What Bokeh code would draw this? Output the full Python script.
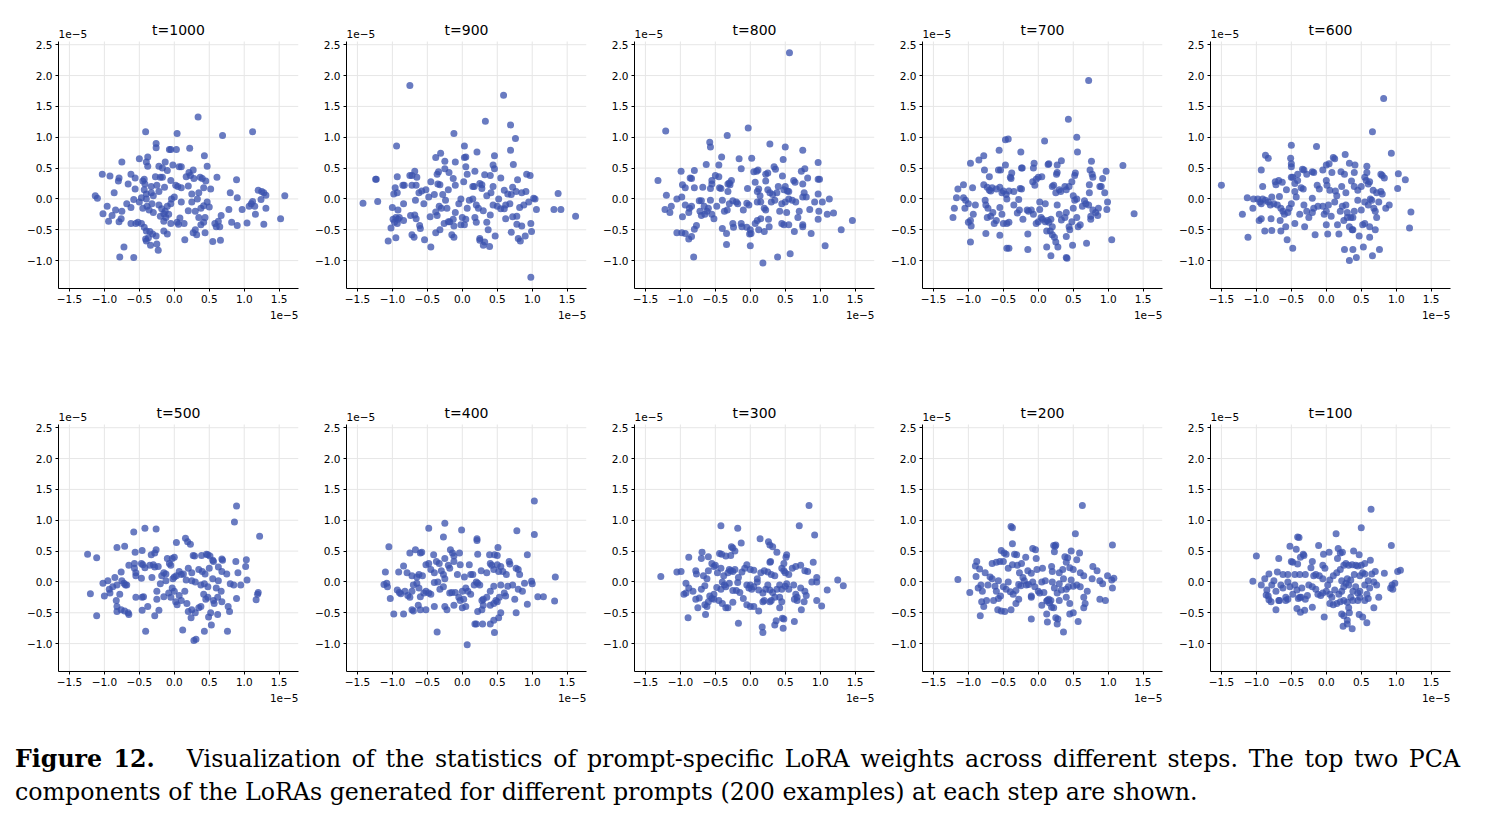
from bokeh.plotting import figure
from bokeh.layouts import row, column
from bokeh.models import Range1d, FixedTicker, Title, Div, Spacer
from bokeh.core.properties import value
from bokeh.embed import file_html
from bokeh.resources import INLINE

steps = [1000, 900, 800, 700, 600, 500, 400, 300, 200, 100]
x_ticks = [-1.5, -1.0, -0.5, 0.0, 0.5, 1.0, 1.5]
y_ticks = [-1.0, -0.5, 0.0, 0.5, 1.0, 1.5, 2.0, 2.5]
tick_labels = {v: ("\u2212%.1f" % -v if v < 0 else "%.1f" % v) for v in sorted(set(x_ticks + y_ticks))}
offset_text = "1e\u22125"

pts_t1000 = [
(0.34,1.33),(-0.41,1.09),(0.04,1.06),(0.69,1.03),(1.12,1.09),(-0.26,0.90),(-0.26,0.83),(-0.07,0.80),(-0.05,0.80),(0.03,0.80),
(0.22,0.82),(-0.75,0.60),(-0.50,0.65),(-0.38,0.68),(-0.40,0.60),(-0.38,0.53),(0.43,0.70),(-0.13,0.60),(-0.22,0.53),(-0.17,0.50),
(-0.02,0.55),(0.07,0.52),(0.10,0.52),(0.21,0.43),(0.27,0.47),(0.47,0.53),(-1.03,0.40),(-0.92,0.37),(-0.79,0.34),(-0.80,0.29),
(-0.62,0.40),(-0.66,0.24),(-0.56,0.34),(-0.56,0.16),(-0.45,0.29),(-0.43,0.32),(-0.42,0.24),(-0.43,0.15),(-0.40,0.08),(-0.33,0.20),
(-0.27,0.36),(-0.25,0.22),(-0.20,0.35),(-0.17,0.35),(-0.14,0.19),(-0.10,0.46),(-0.05,0.30),(0.02,0.22),(0.05,0.20),(0.10,0.18),
(0.17,0.36),(0.20,0.21),(0.23,0.38),(0.28,0.33),(0.37,0.35),(0.40,0.33),(0.45,0.29),(0.61,0.35),(0.52,0.16),(0.42,0.18),
(0.35,0.10),(0.25,0.08),(0.80,0.10),(0.89,0.31),(0.90,0.02),(1.20,0.14),(1.25,0.12),(1.28,0.10),(1.31,0.06),(1.12,-0.04),
(1.10,-0.08),(1.07,-0.12),(1.15,-0.12),(1.31,-0.15),(1.24,-0.01),(1.58,0.05),(1.52,-0.32),(1.16,-0.25),(1.04,-0.39),(1.28,-0.41),
(0.97,-0.17),(0.78,-0.17),(0.82,-0.38),(0.90,-0.43),(0.67,-0.27),(0.63,-0.36),(0.58,-0.40),(0.60,-0.45),(0.65,-0.45),(0.55,-0.69),
(0.66,-0.67),(0.50,-0.13),(0.47,-0.05),(0.42,-0.11),(0.38,-0.15),(0.44,-0.30),(0.42,-0.38),(0.38,-0.42),(0.44,-0.55),(0.35,-0.30),
(0.30,-0.50),(0.27,-0.55),(0.32,-0.58),(0.20,-0.19),(0.14,-0.40),(0.08,-0.31),(0.04,-0.38),(0.06,-0.41),(0.15,-0.66),(-1.13,0.05),
(-1.10,0.01),(-0.96,-0.12),(-1.02,-0.24),(-0.94,-0.36),(-0.89,-0.27),(-0.84,-0.18),(-0.86,0.10),(-0.79,-0.37),(-0.75,-0.20),(-0.76,-0.32),
(-0.68,-0.08),(-0.62,-0.14),(-0.58,-0.01),(-0.62,-0.40),(-0.55,-0.40),(-0.52,-0.38),(-0.47,-0.40),(-0.43,-0.46),(-0.40,-0.52),(-0.35,-0.53),
(-0.31,-0.57),(-0.41,-0.65),(-0.40,-0.68),(-0.37,-0.63),(-0.34,-0.75),(-0.25,-0.73),(-0.23,-0.83),(-0.26,-0.60),(-0.72,-0.78),(-0.78,-0.94),
(-0.58,-0.95),(-0.15,-0.52),(-0.10,-0.57),(-0.45,-0.15),(-0.39,-0.12),(-0.36,-0.18),(-0.32,-0.08),(-0.30,-0.22),(-0.22,-0.10),(-0.18,-0.16),
(-0.15,-0.24),(-0.12,-0.30),(-0.13,-0.20),(-0.10,-0.12),(-0.08,-0.25),(-0.05,-0.08),(-0.04,0.00),(0.00,0.03),(-0.20,-0.28),(-0.15,-0.36),
(-0.05,-0.40),(0.10,-0.05),(0.25,-0.05),(0.33,0.00),(0.30,-0.20),(-0.47,0.02),(-0.50,-0.05),(-0.30,0.05),(-0.33,0.10),(-0.22,0.12),
(-0.40,0.00),
]

pts_t900 = [
(-0.75,1.84),(0.59,1.68),(0.33,1.26),(0.69,1.20),(-0.12,1.06),(0.76,0.98),(-0.94,0.86),(0.03,0.86),(0.69,0.79),(0.21,0.76),
(-0.38,0.67),(-0.31,0.74),(0.03,0.67),(0.05,0.68),(-0.10,0.60),(-0.25,0.61),(0.46,0.70),(0.44,0.55),(0.46,0.49),(0.73,0.56),
(-0.25,0.49),(-0.19,0.43),(-0.34,0.44),(-0.36,0.40),(0.05,0.52),(0.18,0.45),(0.55,0.34),(0.32,0.39),(0.40,0.38),(0.92,0.40),
(0.97,0.38),(0.79,0.31),(-0.72,0.38),(-0.75,0.38),(-0.68,0.45),(-0.65,0.35),(-0.93,0.36),(-1.24,0.32),(-1.23,0.32),(-0.83,0.22),
(-0.85,0.22),(-0.72,0.22),(-0.66,0.22),(-0.96,0.18),(-0.98,0.08),(-0.93,0.10),(-0.62,0.10),(-0.58,0.13),(-0.52,0.15),(-0.48,0.03),
(-0.45,0.28),(-0.40,0.07),(-0.35,0.24),(-0.32,0.23),(-0.28,0.07),(-0.20,0.15),(-0.10,0.22),(-0.13,0.33),(0.02,0.28),(0.07,0.40),
(0.15,0.20),(0.17,0.20),(0.25,0.25),(0.28,0.23),(0.28,0.17),(0.44,0.20),(0.41,0.10),(0.35,0.05),(0.52,0.00),(0.60,0.14),
(0.65,0.08),(0.70,0.07),(0.72,0.19),(0.77,0.12),(0.85,0.10),(0.91,0.12),(-1.42,-0.07),(-1.21,-0.04),(-1.00,-0.14),(-0.92,-0.18),
(-0.84,-0.08),(-0.99,-0.33),(-0.95,-0.30),(-0.92,-0.33),(-0.90,-0.30),(-0.93,-0.40),(-0.97,-0.38),(-1.02,-0.47),(-0.95,-0.63),(-1.06,-0.68),
(-0.84,-0.35),(-0.74,-0.27),(-0.68,-0.26),(-0.66,-0.32),(-0.72,-0.58),(-0.69,-0.62),(-0.61,-0.43),(-0.60,-0.48),(-0.54,-0.66),(-0.45,-0.78),
(-0.67,-0.02),(-0.55,-0.08),(-0.46,-0.29),(-0.38,-0.21),(-0.36,-0.27),(-0.33,-0.12),(-0.30,-0.15),(-0.24,-0.02),(-0.22,-0.15),(-0.18,-0.37),
(-0.13,-0.33),(-0.10,-0.22),(-0.05,-0.08),(-0.02,0.00),(0.00,-0.30),(0.05,-0.33),(0.07,-0.15),(-0.38,-0.55),(-0.32,-0.50),(-0.26,-0.40),
(-0.20,-0.37),(-0.15,-0.58),(-0.12,-0.62),(-0.12,-0.44),(-0.02,-0.42),(0.03,-0.42),(0.10,-0.02),(0.15,0.00),(0.20,-0.10),(0.23,-0.15),
(0.30,-0.19),(0.18,-0.30),(0.20,-0.38),(0.35,-0.38),(0.40,-0.26),(0.44,-0.10),(0.47,-0.60),(0.37,-0.50),(0.32,-0.70),(0.25,-0.64),
(0.25,-0.67),(0.30,-0.75),(0.39,-0.77),(0.50,-0.12),(0.55,-0.16),(0.60,-0.16),(0.62,-0.10),(0.68,-0.08),(0.72,-0.29),(0.78,-0.28),
(0.62,-0.32),(0.70,-0.54),(0.78,-0.41),(0.85,-0.44),(0.80,-0.64),(0.83,-0.68),(0.90,-0.60),(0.98,-0.40),(0.99,-0.53),(0.82,-0.14),
(0.88,-0.10),(0.95,-0.05),(1.02,0.01),(1.04,0.00),(1.06,-0.17),(1.31,-0.17),(1.41,-0.17),(1.37,0.09),(1.62,-0.28),(0.98,-1.27),
]

pts_t800 = [
(0.56,2.37),(-1.21,1.10),(-0.03,1.15),(-0.33,1.03),(-0.58,0.92),(-0.57,0.84),(0.28,0.89),(0.50,0.84),(0.75,0.79),(-0.41,0.68),
(-0.16,0.65),(0.02,0.66),(0.47,0.64),(-0.63,0.56),(-0.45,0.55),(-0.13,0.49),(0.97,0.59),(-0.99,0.45),(-0.80,0.46),(-0.86,0.34),
(-0.84,0.33),(-1.32,0.30),(-0.93,0.18),(-0.97,0.23),(-0.80,0.18),(-0.68,0.19),(-0.55,0.30),(-0.55,0.24),(-0.57,0.17),(-0.50,0.38),
(-0.45,0.36),(-0.44,0.18),(-0.42,0.17),(-0.30,0.26),(-0.29,0.23),(-0.32,0.24),(-0.27,0.30),(-0.32,0.12),(0.05,0.44),(0.09,0.45),
(0.11,0.47),(0.25,0.42),(0.22,0.40),(0.34,0.52),(0.36,0.48),(0.46,0.37),(-0.04,0.17),(0.07,0.27),(0.10,0.12),(0.12,0.16),
(0.14,0.05),(0.22,0.29),(0.25,0.15),(0.28,0.10),(0.32,0.07),(0.38,0.10),(0.40,0.20),(0.48,0.15),(0.50,0.20),(0.53,0.13),
(0.55,0.12),(0.62,0.30),(0.64,0.27),(0.75,0.24),(0.73,0.45),(0.78,0.49),(0.82,0.34),(0.97,0.32),(0.99,0.32),(0.77,0.10),
(0.80,0.03),(0.97,0.08),(-1.20,0.06),(-1.05,0.00),(-0.98,0.03),(-1.13,-0.12),(-1.22,-0.17),(-1.15,-0.22),(-0.93,-0.10),(-0.87,-0.15),
(-0.88,-0.22),(-0.84,-0.12),(-0.73,-0.03),(-0.70,-0.03),(-0.66,-0.12),(-0.72,-0.20),(-0.70,-0.27),(-0.65,-0.25),(-0.62,-0.20),(-0.60,-0.15),
(-0.57,-0.02),(-0.55,-0.25),(-0.52,-0.32),(-0.48,-0.12),(-0.40,-0.02),(-0.37,-0.20),(-0.33,-0.18),(-0.30,-0.08),(-0.25,-0.03),(-0.20,-0.05),
(-0.18,-0.08),(-0.10,-0.18),(-0.05,-0.07),(-0.02,-0.10),(-0.97,-0.29),(-0.98,-0.55),(-1.05,-0.55),(-0.93,-0.56),(-0.88,-0.65),(-0.84,-0.61),
(-0.80,-0.49),(-0.77,-0.43),(-0.81,-0.94),(-0.40,-0.48),(-0.34,-0.56),(-0.34,-0.74),(-0.25,-0.40),(-0.24,-0.46),(-0.13,-0.40),(-0.12,-0.45),
(-0.05,-0.46),(0.00,-0.50),(-0.01,-0.57),(0.01,-0.56),(0.00,-0.76),(0.07,-0.40),(0.10,-0.35),(0.12,-0.50),(0.15,-0.32),(0.20,-0.53),
(0.26,-0.33),(0.27,-0.45),(0.18,-1.04),(0.10,-0.05),(0.15,-0.05),(0.20,-0.15),(0.22,-0.18),(0.30,-0.05),(0.35,-0.02),(0.42,-0.20),
(0.45,-0.08),(0.50,-0.05),(0.55,0.00),(0.52,-0.22),(0.60,-0.02),(0.65,-0.05),(0.70,-0.20),(0.68,-0.30),(0.75,0.03),(0.45,-0.40),
(0.48,-0.42),(0.55,-0.42),(0.63,-0.53),(0.75,-0.42),(0.75,-0.45),(0.87,-0.56),(0.97,-0.33),(0.98,-0.20),(1.03,-0.05),(1.13,0.00),
(1.10,-0.25),(1.19,-0.23),(0.85,-0.17),(0.92,-0.05),(0.39,-0.94),(0.57,-0.89),(1.07,-0.76),(1.30,-0.50),(1.46,-0.35),
]

pts_t700 = [
(0.72,1.92),(0.43,1.29),(0.55,1.00),(0.56,0.76),(-0.47,0.96),(-0.43,0.97),(0.09,0.94),(-0.56,0.79),(-0.25,0.76),(-0.97,0.58),
(-0.85,0.63),(-0.78,0.70),(-0.77,0.47),(-0.54,0.47),(-0.57,0.47),(-0.47,0.55),(-0.24,0.50),(-0.23,0.50),(-0.70,0.36),(-0.38,0.42),
(-0.40,0.35),(-0.39,0.33),(-0.06,0.58),(-0.07,0.50),(0.15,0.57),(0.14,0.56),(0.33,0.62),(0.27,0.55),(0.76,0.61),(0.27,0.43),
(0.26,0.40),(0.53,0.42),(0.52,0.38),(0.74,0.47),(0.77,0.40),(0.78,0.35),(0.97,0.45),(1.21,0.54),(-1.15,0.16),(-1.07,0.23),
(-0.94,0.18),(-0.78,0.23),(-0.73,0.19),(-0.70,0.14),(-0.68,0.13),(-0.66,0.18),(-0.60,0.16),(-0.55,0.19),(-0.52,0.10),(-0.50,0.13),
(-0.46,0.07),(-0.45,0.00),(-0.42,0.13),(-0.35,0.12),(-0.26,0.17),(-0.24,0.16),(-0.28,-0.01),(-0.08,0.28),(-0.05,0.22),(-0.03,0.32),
(0.00,0.35),(0.05,0.36),(0.20,0.20),(0.22,0.22),(0.25,0.10),(0.30,0.15),(0.32,0.12),(0.38,0.20),(0.40,0.15),(0.44,0.20),
(0.48,0.28),(0.50,0.05),(0.55,0.00),(0.73,0.23),(0.73,0.10),(0.88,0.20),(0.90,0.20),(0.92,0.33),(0.95,0.10),(-1.17,0.02),
(-1.07,0.02),(-1.04,-0.02),(-1.00,-0.08),(-1.05,-0.15),(-1.20,-0.15),(-1.22,-0.30),(-0.90,-0.10),(-0.93,-0.25),(-0.97,-0.35),(-1.00,-0.38),
(-0.96,-0.44),(-0.97,-0.70),(-0.76,-0.02),(-0.75,-0.10),(-0.72,-0.15),(-0.73,-0.30),(-0.68,-0.28),(-0.65,-0.22),(-0.63,-0.40),(-0.60,-0.35),
(-0.55,-0.14),(-0.52,-0.25),(-0.50,-0.40),(-0.45,-0.40),(-0.42,-0.38),(-0.75,-0.56),(-0.55,-0.59),(-0.45,-0.80),(-0.42,-0.80),(-0.15,-0.82),
(-0.35,-0.10),(-0.30,-0.23),(-0.27,-0.18),(-0.22,-0.33),(-0.16,-0.18),(-0.14,-0.20),(-0.10,-0.18),(-0.07,-0.25),(-0.03,-0.40),(0.00,-0.37),
(0.02,-0.05),(0.02,-0.17),(0.04,-0.30),(0.06,-0.33),(0.10,-0.37),(0.10,-0.08),(0.13,-0.35),(0.15,-0.38),(0.18,-0.33),(0.20,-0.45),
(0.17,-0.52),(0.12,-0.52),(-0.15,-0.57),(0.23,-0.62),(0.20,-0.58),(0.27,-0.10),(0.30,-0.25),(0.33,-0.34),(0.38,-0.30),(0.40,-0.22),
(0.44,-0.45),(0.45,-0.50),(0.40,-0.61),(0.48,-0.37),(0.52,-0.02),(0.50,-0.15),(0.55,-0.30),(0.57,-0.45),(0.60,-0.42),(0.63,-0.12),
(0.66,-0.03),(0.68,-0.08),(0.72,-0.10),(0.75,-0.28),(0.78,-0.18),(0.82,-0.22),(0.86,-0.15),(0.85,-0.27),(0.99,-0.05),(0.98,-0.17),
(0.75,-0.33),(0.12,-0.78),(0.18,-0.92),(0.28,-0.78),(0.40,-0.95),(0.41,-0.96),(0.49,-0.75),(0.69,-0.72),(1.05,-0.66),(1.37,-0.24),
(0.25,-0.70),
]

pts_t600 = [
(0.82,1.63),(0.66,1.09),(-0.50,0.87),(-0.14,0.85),(0.93,0.74),(-0.87,0.71),(-0.83,0.66),(-0.51,0.66),(-0.50,0.57),(-0.50,0.52),
(0.10,0.67),(0.12,0.65),(0.27,0.72),(0.33,0.58),(0.41,0.55),(0.58,0.53),(0.04,0.57),(0.00,0.55),(-0.93,0.47),(-0.34,0.48),
(-0.32,0.47),(-0.41,0.40),(-0.20,0.44),(-0.18,0.43),(-0.28,0.40),(-0.05,0.47),(0.08,0.43),(0.21,0.44),(0.26,0.40),(0.40,0.43),
(0.58,0.43),(0.78,0.40),(0.80,0.38),(0.83,0.34),(1.03,0.41),(-1.50,0.22),(-0.91,0.20),(-0.73,0.28),(-0.68,0.30),(-0.63,0.27),
(-0.72,0.23),(-0.57,0.15),(-0.50,0.35),(-0.48,0.35),(-0.45,0.25),(-0.41,0.30),(-0.36,0.18),(-0.33,0.16),(-0.13,0.22),(-0.10,0.16),
(0.00,0.30),(0.01,0.22),(0.05,0.14),(0.13,0.13),(0.15,0.05),(0.22,0.20),(0.28,0.10),(0.36,0.29),(0.40,0.20),(0.45,0.14),
(0.50,0.20),(0.55,0.35),(0.57,0.30),(0.60,0.24),(0.62,0.28),(0.67,0.14),(0.72,0.10),(0.78,0.12),(0.80,0.08),(1.02,0.17),
(1.13,0.31),(-1.13,0.02),(-1.04,0.00),(-1.05,-0.15),(-0.98,0.00),(-0.95,-0.05),(-0.93,-0.08),(-0.91,0.00),(-0.87,-0.02),(-0.83,-0.05),
(-0.80,-0.10),(-0.78,0.03),(-0.75,-0.08),(-0.70,-0.10),(-0.67,0.04),(-0.65,-0.15),(-0.62,-0.20),(-0.60,-0.25),(-0.55,-0.22),(-0.53,-0.15),
(-0.50,-0.08),(-0.45,0.12),(-0.43,0.03),(-0.38,-0.25),(-0.32,-0.10),(-0.28,-0.20),(-0.25,-0.30),(-0.20,0.01),(-0.18,-0.15),(-0.20,-0.22),
(-0.12,-0.12),(-0.05,-0.12),(-0.03,-0.25),(0.00,-0.20),(0.03,-0.10),(0.07,-0.28),(0.12,-0.05),(0.20,-0.20),(0.23,-0.12),(0.28,-0.10),
(0.30,-0.22),(0.35,-0.30),(0.38,-0.30),(0.40,-0.20),(0.45,-0.02),(0.50,-0.18),(0.55,-0.05),(0.60,-0.10),(0.63,0.00),(0.65,-0.02),
(0.68,-0.15),(0.70,-0.20),(0.75,-0.05),(0.85,-0.15),(0.90,-0.10),(-1.20,-0.25),(-1.12,-0.62),(-0.96,-0.35),(-0.93,-0.32),(-0.88,-0.52),
(-0.79,-0.32),(-0.78,-0.51),(-0.66,-0.35),(-0.65,-0.52),(-0.58,-0.45),(-0.56,-0.66),(-0.48,-0.80),(-0.45,-0.40),(-0.31,-0.45),(-0.16,-0.58),
(0.00,-0.42),(0.02,-0.57),(0.16,-0.42),(0.18,-0.57),(0.25,-0.35),(0.30,-0.30),(0.33,-0.45),(0.37,-0.50),(0.38,-0.50),(0.52,-0.42),
(0.55,-0.40),(0.62,-0.45),(0.70,-0.50),(0.47,-0.60),(0.62,-0.62),(0.26,-0.82),(0.38,-0.82),(0.33,-1.00),(0.43,-0.95),(0.53,-0.78),
(0.66,-0.92),(0.76,-0.82),(1.19,-0.47),(1.21,-0.21),(0.72,-0.30),
]

pts_t500 = [
(0.89,1.23),(0.86,0.97),(1.22,0.74),(-0.58,0.81),(-0.42,0.87),(-0.26,0.86),(0.03,0.64),(0.16,0.71),(0.19,0.65),(0.23,0.61),
(-0.82,0.56),(-0.71,0.58),(-1.24,0.45),(-1.11,0.39),(-0.56,0.48),(-0.46,0.51),(-0.26,0.52),(-0.28,0.47),(-0.33,0.44),(-0.03,0.38),
(0.00,0.40),(-0.10,0.38),(0.27,0.43),(0.29,0.42),(0.39,0.43),(0.46,0.45),(0.48,0.44),(0.51,0.42),(0.55,0.35),(0.56,0.33),
(0.68,0.37),(0.69,0.35),(0.88,0.33),(1.03,0.36),(-0.76,0.16),(-0.65,0.27),(-0.57,0.30),(-0.57,0.22),(-0.55,0.15),(-0.55,0.10),
(-0.47,0.30),(-0.45,0.28),(-0.42,0.23),(-0.35,0.27),(-0.30,0.28),(-0.28,0.24),(-0.23,0.25),(-0.15,0.15),(-0.12,0.13),(-0.07,0.30),
(-0.05,0.27),(0.03,0.10),(0.07,0.17),(0.10,0.12),(0.13,0.13),(0.20,0.22),(0.25,0.15),(0.35,0.20),(0.40,0.17),(0.44,0.13),
(0.50,0.22),(0.63,0.24),(0.68,0.17),(0.75,0.13),(0.91,0.15),(1.02,0.25),(1.04,0.03),(-0.47,0.06),(-0.32,0.07),(-0.20,-0.03),
(-0.18,0.10),(-0.12,0.02),(-0.02,0.05),(0.00,0.08),(0.17,0.03),(0.25,0.02),(0.30,0.00),(0.38,-0.05),(0.43,-0.03),(0.48,-0.08),
(0.55,0.05),(0.60,-0.10),(0.63,0.02),(0.67,-0.15),(0.80,-0.03),(0.85,-0.05),(0.95,-0.05),(-1.02,-0.02),(-0.95,0.02),(-0.93,-0.12),
(-0.92,-0.18),(-0.88,-0.08),(-0.85,0.07),(-0.82,-0.05),(-0.78,-0.20),(-0.75,0.02),(-0.72,-0.02),(-0.70,-0.05),(-0.68,-0.05),(-1.20,-0.19),
(-1.00,-0.23),(-0.83,-0.30),(-0.82,-0.40),(-0.82,-0.48),(-0.76,-0.45),(-0.71,-0.47),(-0.66,-0.50),(-0.65,-0.53),(-1.11,-0.55),(-0.55,-0.25),
(-0.46,-0.25),(-0.44,-0.24),(-0.46,-0.46),(-0.38,-0.40),(-0.25,-0.28),(-0.25,-0.15),(-0.28,-0.55),(-0.22,-0.46),(-0.15,-0.24),(-0.08,-0.18),
(-0.05,-0.25),(-0.03,-0.10),(0.00,-0.15),(0.02,-0.32),(0.04,-0.37),(0.07,-0.22),(0.10,-0.30),(0.15,-0.15),(0.18,-0.35),(0.20,-0.48),
(0.24,-0.58),(0.25,-0.45),(0.30,-0.50),(0.35,-0.42),(0.38,-0.40),(0.42,-0.20),(0.45,-0.28),(0.48,-0.25),(0.52,-0.50),(0.56,-0.30),
(0.57,-0.35),(0.62,-0.25),(0.62,-0.53),(0.68,-0.32),(0.77,-0.40),(0.79,-0.48),(0.89,-0.27),(1.17,-0.29),(1.19,-0.20),(1.20,-0.17),
(-0.41,-0.80),(0.12,-0.78),(0.28,-0.95),(0.31,-0.93),(0.43,-0.80),(0.53,-0.70),(0.49,-0.57),(0.76,-0.80),
]

pts_t400 = [
(1.03,1.31),(1.03,0.77),(0.78,0.83),(-0.01,0.84),(-0.48,0.87),(-0.25,0.95),(-0.27,0.73),(0.21,0.70),(0.21,0.67),(-1.05,0.57),
(-0.75,0.47),(-0.67,0.52),(-0.60,0.47),(-0.58,0.48),(-0.41,0.44),(-0.17,0.52),(-0.14,0.47),(-0.12,0.42),(-0.04,0.47),(0.22,0.45),
(0.39,0.44),(0.46,0.44),(0.51,0.56),(0.50,0.43),(0.93,0.44),(-1.10,0.16),(-0.91,0.16),(-0.84,0.26),(-0.79,0.15),(-0.72,0.10),
(-0.65,0.08),(-0.62,0.12),(-0.57,0.10),(-0.52,0.28),(-0.48,0.30),(-0.45,0.20),(-0.40,0.15),(-0.37,0.33),(-0.33,0.30),(-0.30,0.18),
(-0.27,0.12),(-0.25,0.38),(-0.20,0.27),(-0.18,0.22),(-0.12,0.33),(-0.07,0.12),(-0.03,0.28),(0.03,0.08),(0.10,0.28),(0.12,0.12),
(0.15,0.12),(0.27,0.18),(0.35,0.15),(0.40,0.30),(0.42,0.27),(0.45,0.20),(0.50,0.28),(0.52,0.17),(0.55,0.25),(0.58,0.17),
(0.63,0.12),(0.67,0.33),(0.68,0.29),(0.77,0.22),(0.80,0.20),(0.82,0.12),(-1.12,-0.04),(-1.08,-0.02),(-1.07,-0.08),(-1.03,-0.27),
(-0.93,-0.13),(-0.90,-0.17),(-0.88,-0.19),(-0.82,-0.15),(-0.78,-0.22),(-0.75,-0.25),(-0.72,-0.15),(-0.70,-0.05),(-0.65,-0.02),(-0.62,-0.10),
(-0.60,-0.24),(-0.55,-0.18),(-0.52,-0.15),(-0.48,-0.18),(-0.45,-0.20),(-0.40,-0.01),(-0.35,0.00),(-0.32,-0.12),(-0.27,-0.08),(-0.25,0.05),
(-0.18,-0.18),(-0.15,-0.17),(-0.10,-0.17),(-0.05,-0.25),(-0.03,-0.30),(0.00,-0.15),(0.02,-0.28),(0.05,-0.10),(0.08,-0.15),(0.12,-0.20),
(0.17,-0.05),(0.20,0.00),(0.22,-0.02),(0.25,-0.05),(0.28,-0.30),(0.30,-0.28),(0.35,-0.25),(0.40,-0.15),(0.45,-0.07),(0.48,-0.30),
(0.53,-0.25),(0.55,-0.05),(0.60,-0.18),(0.62,-0.23),(0.65,-0.07),(0.72,-0.05),(0.75,-0.28),(0.80,-0.12),(0.86,-0.15),(0.89,-0.02),
(0.99,0.01),(1.00,-0.03),(1.08,-0.24),(1.16,-0.24),(1.33,0.08),(1.32,-0.31),(-0.98,-0.52),(-0.84,-0.52),(-0.72,-0.45),(-0.70,-0.47),
(-0.63,-0.38),(-0.60,-0.45),(-0.52,-0.45),(-0.40,-0.40),(-0.25,-0.40),(-0.22,-0.45),(-0.12,-0.38),(0.00,-0.42),(0.05,-0.40),(0.22,-0.48),
(0.28,-0.45),(0.30,-0.38),(0.40,-0.38),(0.45,-0.35),(0.50,-0.32),(0.55,-0.50),(0.52,-0.58),(0.45,-0.62),(0.77,-0.50),(0.93,-0.36),
(0.18,-0.68),(0.20,-0.68),(0.29,-0.68),(0.40,-0.68),(-0.36,-0.81),(0.46,-0.82),(0.07,-1.02),
]

pts_t300 = [
(0.84,1.24),(0.70,0.91),(0.92,0.76),(-0.42,0.91),(-0.18,0.87),(-0.13,0.63),(0.14,0.70),(0.26,0.65),(0.28,0.60),(0.32,0.57),
(0.38,0.48),(-0.88,0.40),(-0.70,0.38),(-0.69,0.48),(-0.60,0.41),(-0.44,0.46),(-0.41,0.45),(-0.27,0.57),(-0.25,0.55),(-0.22,0.50),
(-0.35,0.42),(-0.28,0.43),(0.29,0.33),(0.28,0.32),(0.52,0.44),(0.51,0.40),(0.48,0.30),(0.90,0.32),(-1.28,0.09),(-1.05,0.16),
(-0.99,0.17),(-0.78,0.18),(-0.77,0.13),(-0.67,0.10),(-0.60,0.18),(-0.55,0.30),(-0.52,0.25),(-0.50,0.27),(-0.47,0.15),(-0.42,0.22),
(-0.38,0.10),(-0.32,0.15),(-0.30,0.20),(-0.28,0.18),(-0.25,0.17),(-0.22,0.20),(-0.17,0.07),(-0.12,0.16),(-0.08,0.22),(-0.05,0.28),
(0.00,0.20),(0.05,0.19),(0.10,0.05),(0.15,0.15),(0.20,0.18),(0.25,0.16),(0.30,0.12),(0.35,0.10),(0.45,0.22),(0.48,0.18),
(0.50,0.15),(0.55,0.12),(0.60,0.22),(0.65,0.25),(0.72,0.27),(0.78,0.18),(0.82,0.17),(0.95,0.07),(-0.92,-0.02),(-0.95,-0.20),
(-0.92,-0.18),(-0.88,-0.10),(-0.82,-0.15),(-0.78,-0.28),(-0.73,-0.26),(-0.70,-0.12),(-0.65,-0.06),(-0.62,0.05),(-0.58,-0.23),(-0.55,-0.27),
(-0.52,-0.20),(-0.48,-0.09),(-0.42,-0.12),(-0.40,0.00),(-0.37,-0.05),(-0.35,-0.08),(-0.30,-0.02),(-0.25,-0.14),(-0.20,-0.14),(-0.18,-0.01),
(-0.15,-0.17),(-0.10,-0.27),(-0.05,-0.05),(-0.02,-0.10),(0.00,-0.05),(0.02,-0.12),(0.05,-0.08),(0.10,0.00),(0.12,-0.13),(0.18,-0.18),
(0.22,-0.12),(0.25,-0.05),(0.28,-0.13),(0.32,-0.17),(0.38,-0.12),(0.42,-0.05),(0.45,-0.12),(0.50,-0.07),(0.52,-0.03),(0.55,-0.12),
(0.62,-0.05),(0.65,-0.20),(0.67,-0.25),(0.72,-0.10),(0.78,-0.15),(0.88,0.00),(0.95,0.00),(1.10,-0.13),(1.25,0.03),(1.33,-0.06),
(-0.75,-0.42),(-0.65,-0.37),(-0.62,-0.40),(-0.60,-0.32),(-0.52,-0.28),(-0.45,-0.30),(-0.40,-0.35),(-0.35,-0.42),(-0.32,-0.42),(-0.25,-0.33),
(-0.05,-0.37),(0.00,-0.40),(0.05,-0.40),(0.12,-0.47),(0.18,-0.32),(0.20,-0.30),(0.28,-0.32),(0.30,-0.30),(0.35,-0.25),(0.42,-0.25),
(0.45,-0.32),(0.42,-0.42),(0.63,-0.28),(0.67,-0.30),(0.73,-0.45),(0.77,-0.32),(0.80,-0.22),(0.95,-0.30),(1.02,-0.39),(-0.89,-0.58),
(-0.64,-0.53),(-0.17,-0.67),(0.17,-0.73),(0.18,-0.82),(0.35,-0.70),(0.37,-0.63),(0.46,-0.59),(0.48,-0.60),(0.47,-0.75),(0.63,-0.64),
]

pts_t200 = [
(0.63,1.24),(0.53,0.78),(1.06,0.60),(-0.39,0.90),(-0.37,0.88),(-0.37,0.62),(0.22,0.59),(0.25,0.60),(0.24,0.58),(0.23,0.49),
(-0.08,0.54),(-0.04,0.52),(-0.53,0.51),(-0.49,0.47),(-0.46,0.45),(-0.34,0.45),(-0.31,0.44),(0.47,0.50),(0.59,0.47),(0.38,0.41),
(0.42,0.39),(-0.18,0.40),(-0.03,0.38),(-0.88,0.33),(-0.90,0.26),(-0.84,0.21),(-0.66,0.30),(-0.60,0.32),(-0.55,0.33),(-0.50,0.33),
(-0.43,0.22),(-0.37,0.28),(-0.30,0.27),(-0.24,0.30),(-0.27,0.15),(-0.15,0.18),(-0.10,0.14),(-0.02,0.20),(0.06,0.22),(0.19,0.25),
(0.20,0.17),(0.30,0.15),(0.35,0.20),(0.40,0.32),(0.45,0.23),(0.50,0.20),(0.55,0.36),(0.60,0.15),(0.65,0.10),(0.78,0.25),
(0.84,0.18),(0.99,0.10),(-1.15,0.04),(-0.98,-0.17),(-0.89,0.09),(-0.86,-0.10),(-0.82,-0.05),(-0.80,-0.15),(-0.76,0.15),(-0.72,-0.05),
(-0.69,0.08),(-0.66,0.05),(-0.62,-0.07),(-0.60,-0.15),(-0.57,0.02),(-0.54,-0.23),(-0.50,-0.08),(-0.46,-0.12),(-0.43,0.00),(-0.40,-0.16),
(-0.36,-0.20),(-0.32,-0.14),(-0.28,-0.04),(-0.25,-0.06),(-0.22,0.07),(-0.20,0.02),(-0.17,-0.05),(-0.14,-0.04),(-0.10,-0.23),(-0.08,0.00),
(-0.05,-0.08),(0.00,-0.15),(0.02,-0.18),(0.05,0.00),(0.08,-0.17),(0.10,0.02),(0.13,-0.30),(0.15,-0.28),(0.18,-0.30),(0.20,0.00),
(0.23,-0.10),(0.27,-0.18),(0.30,-0.03),(0.33,-0.13),(0.36,0.05),(0.40,-0.12),(0.43,-0.08),(0.47,0.03),(0.50,-0.07),(0.55,-0.05),
(0.60,-0.08),(0.65,-0.25),(0.70,-0.15),(0.77,0.05),(0.88,0.02),(0.92,-0.03),(1.05,0.03),(1.08,0.06),(1.06,-0.10),(-0.81,-0.32),
(-0.78,-0.40),(-0.74,-0.30),(-0.64,-0.30),(-0.57,-0.27),(-0.58,-0.45),(-0.53,-0.47),(-0.48,-0.48),(-0.39,-0.45),(-0.32,-0.35),(-0.28,-0.28),
(-0.10,-0.25),(0.05,-0.38),(0.12,-0.31),(0.16,-0.34),(0.19,-0.41),(0.22,-0.42),(0.30,-0.30),(0.40,-0.25),(0.45,-0.35),(0.45,-0.52),
(0.50,-0.50),(0.65,-0.42),(0.67,-0.35),(0.88,-0.28),(0.96,-0.30),(-0.83,-0.55),(-0.10,-0.60),(0.12,-0.52),(0.13,-0.65),(0.25,-0.58),
(0.27,-0.68),(0.28,-0.60),(0.36,-0.81),(0.57,-0.64),
]

pts_t100 = [
(0.64,1.18),(0.50,0.88),(-0.41,0.73),(-0.39,0.72),(0.14,0.78),(0.93,0.59),(-0.52,0.58),(-0.43,0.53),(-0.11,0.59),(0.17,0.54),
(0.04,0.48),(-0.04,0.45),(0.20,0.47),(0.23,0.48),(0.39,0.50),(0.47,0.44),(-1.00,0.42),(-0.33,0.45),(-0.32,0.43),(-0.37,0.40),
(-0.68,0.38),(-0.50,0.33),(-0.48,0.32),(-0.41,0.29),(-0.20,0.33),(0.16,0.38),(0.25,0.27),(0.28,0.30),(0.32,0.27),(0.37,0.28),
(0.42,0.27),(0.45,0.26),(0.50,0.27),(0.55,0.30),(0.63,0.35),(0.20,0.20),(-0.05,0.27),(-0.02,0.22),(-0.82,0.13),(-0.70,0.16),
(-0.62,0.12),(-0.55,0.12),(-0.45,0.12),(-0.38,0.12),(-0.30,0.12),(-0.22,0.23),(-0.18,0.10),(-0.15,0.12),(-0.10,0.10),(-0.05,0.05),
(0.05,0.03),(0.10,0.10),(0.15,0.15),(0.22,0.02),(0.30,0.05),(0.35,0.03),(0.40,0.12),(0.48,0.10),(0.52,0.15),(0.55,0.13),
(0.60,0.02),(0.65,0.13),(0.70,0.17),(0.83,0.14),(1.02,0.17),(1.06,0.19),(-1.05,0.01),(-0.93,-0.05),(-0.88,0.05),(-0.85,-0.13),
(-0.83,-0.23),(-0.78,-0.05),(-0.75,0.02),(-0.72,-0.15),(-0.68,-0.30),(-0.65,-0.05),(-0.62,-0.10),(-0.58,-0.25),(-0.55,0.00),(-0.52,-0.08),
(-0.48,-0.20),(-0.45,-0.05),(-0.42,-0.13),(-0.38,-0.25),(-0.35,-0.10),(-0.30,-0.28),(-0.27,-0.22),(-0.25,-0.05),(-0.20,-0.08),(-0.15,-0.12),
(-0.12,-0.20),(-0.08,-0.22),(-0.05,-0.18),(0.00,-0.15),(0.02,-0.05),(0.05,-0.20),(0.08,-0.25),(0.12,-0.13),(0.15,-0.35),(0.18,-0.20),
(0.22,-0.15),(0.25,-0.08),(0.28,-0.02),(0.32,-0.05),(0.35,-0.25),(0.38,-0.15),(0.42,-0.08),(0.45,-0.18),(0.48,-0.15),(0.55,-0.05),
(0.58,-0.20),(0.62,-0.10),(0.68,0.00),(0.72,-0.05),(0.94,-0.05),(0.95,-0.12),(0.98,-0.02),(0.92,-0.10),(-0.86,-0.21),(-0.82,-0.29),
(-0.79,-0.32),(-0.67,-0.30),(-0.58,-0.30),(-0.55,-0.28),(-0.40,-0.27),(-0.36,-0.25),(-0.42,-0.43),(-0.37,-0.49),(-0.31,-0.46),(-0.20,-0.41),
(-0.72,-0.45),(0.05,-0.35),(0.10,-0.37),(0.20,-0.32),(0.25,-0.30),(0.30,-0.33),(0.32,-0.42),(0.38,-0.30),(0.45,-0.30),(0.48,-0.25),
(0.55,-0.30),(0.60,-0.27),(0.68,-0.42),(0.75,-0.25),(0.30,-0.62),(0.33,-0.50),(0.22,-0.52),(0.25,-0.55),(0.24,-0.72),(0.30,-0.68),
(0.37,-0.76),(0.47,-0.53),(0.52,-0.57),(0.58,-0.66),(-0.03,-0.57),
]

panel_points = [pts_t1000, pts_t900, pts_t800, pts_t700, pts_t600,
                pts_t500, pts_t400, pts_t300, pts_t200, pts_t100]

# axis limits (data units of 1e-5)
X_RANGE = (-1.656, 1.776)
Y_AXIS = (-1.452, 2.552)
FONT = "DejaVu Sans"
AXES_H = 247                       # px height of the plotted axes area
HEADER_PX = 28                     # px of header (title / offset text) kept inside frame
PX_PER_Y = AXES_H / (Y_AXIS[1] - Y_AXIS[0])
Y_TOP = Y_AXIS[1] + HEADER_PX / PX_PER_Y
GRID_COLOR = "#e6e6e6"


def make_panel(step, pts, bottom_border):
    p = figure(frame_width=240, frame_height=AXES_H + HEADER_PX,
               min_border_left=44, min_border_right=4,
               min_border_top=41 - HEADER_PX, min_border_bottom=bottom_border,
               x_range=Range1d(*X_RANGE), y_range=Range1d(Y_AXIS[0], Y_TOP),
               output_backend="svg", toolbar_location=None,
               background_fill_color="white", border_fill_color="white")
    p.outline_line_color = None
    p.grid.visible = False

    for ax, ticks in ((p.xaxis[0], x_ticks), (p.yaxis[0], y_ticks)):
        ax.ticker = FixedTicker(ticks=ticks)
        ax.major_label_overrides = {t: tick_labels[t] for t in ticks}
        ax.major_label_text_font = FONT
        ax.major_label_text_font_size = "10.5px"
        ax.major_label_text_color = "black"
        ax.axis_line_color = "black"
        ax.axis_line_width = 1
        ax.major_tick_line_color = "black"
        ax.major_tick_in = 0
        ax.major_tick_out = 3
        ax.minor_tick_line_color = None
        ax.major_label_standoff = 3
    p.yaxis[0].bounds = Y_AXIS

    # grid lines limited to the axes area
    p.segment(x0=x_ticks, y0=[Y_AXIS[0]] * len(x_ticks), x1=x_ticks, y1=[Y_AXIS[1]] * len(x_ticks),
              line_color=GRID_COLOR, line_width=1, level="underlay")
    p.segment(x0=[X_RANGE[0]] * len(y_ticks), y0=y_ticks, x1=[X_RANGE[1]] * len(y_ticks), y1=y_ticks,
              line_color=GRID_COLOR, line_width=1, level="underlay")

    xs = [q[0] for q in pts]
    ys = [q[1] for q in pts]
    p.scatter(xs, ys, size=7, fill_color="#3a52ad", fill_alpha=0.76, line_color=None)

    # panel title and axis offset text
    p.text(x=[(X_RANGE[0] + X_RANGE[1]) / 2], y=[Y_AXIS[1] + 12 / PX_PER_Y], text=["t=%d" % step],
           text_font=value(FONT), text_font_size="14px", text_color="black",
           text_align="center", text_baseline="alphabetic")
    p.text(x=[X_RANGE[0]], y=[Y_AXIS[1] + 8 / PX_PER_Y], text=[offset_text],
           text_font=value(FONT), text_font_size="10.5px", text_color="black",
           text_align="left", text_baseline="alphabetic")
    p.add_layout(Title(text=offset_text, align="right", text_font=FONT,
                       text_font_size="10.5px", text_font_style="normal",
                       text_color="black", standoff=7), "below")
    return p


top = [make_panel(s, pts, 95) for s, pts in zip(steps[:5], panel_points[:5])]
bot = [make_panel(s, pts, 40) for s, pts in zip(steps[5:], panel_points[5:])]

caption_html = (
    '<div style="font-family:\'DejaVu Serif\',serif;font-size:23.7px;line-height:33px;'
    'color:#000;padding-left:10px;width:1455px;">'
    '<div style="text-align:justify;text-align-last:justify;white-space:nowrap;">'
    '<b>Figure 12.</b>&nbsp;&nbsp;&nbsp;Visualization of the statistics of prompt-specific LoRA weights '
    'across different steps. The top two PCA</div>'
    '<div>components of the LoRAs generated for different prompts (200 examples) at each step are shown.</div>'
    '</div>'
)
caption = Div(text=caption_html, width=1485, height=80, styles={"margin-top": "32px"})

layout = column(row(Spacer(width=14), *top), row(Spacer(width=14), *bot), caption)

open("out.html", "w").write(file_html(layout, INLINE))
